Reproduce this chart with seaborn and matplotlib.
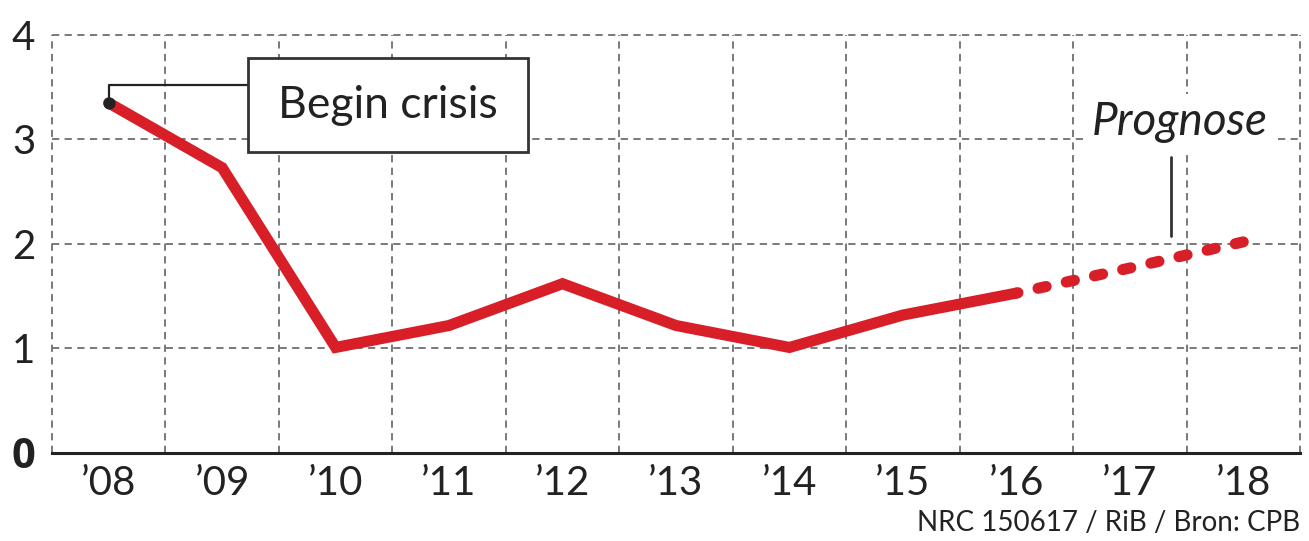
import numpy as np
import pandas as pd
import matplotlib.pyplot as plt
import seaborn as sns
from matplotlib.patches import Rectangle

# values
years = ["’08", "’09", "’10", "’11", "’12", "’13", "’14", "’15", "’16", "’17", "’18"]
growth = [3.35, 2.73, 1.01, 1.22, 1.62, 1.22, 1.01, 1.32, 1.53, 1.77, 2.02]
last_actual = 8  # '16 is the last realised year, rest is forecast
y_ticks = [0, 1, 2, 3, 4]

red = "#d81f28"
grid_col = "#6e6e6e"

sns.set_style("white")
plt.rcParams['font.family'] = ['Lato', 'DejaVu Sans']

df = pd.DataFrame({"pos": np.arange(len(years)), "growth": growth})
actual = df.iloc[:last_actual + 1]
forecast = df.iloc[last_actual:]

fig = plt.figure(figsize=(13.09, 5.41), dpi=100)
ax = fig.add_axes([0.0397, 0.1627, 0.9534, 0.7726])

sns.lineplot(data=actual, x="pos", y="growth", ax=ax, color=red, linewidth=8,
             solid_capstyle="round", solid_joinstyle="miter", zorder=4)
sns.lineplot(data=forecast, x="pos", y="growth", ax=ax, color=red, linewidth=8,
             linestyle=(0.6, (0.75, 1.85)), dash_capstyle="round", zorder=4)

ax.set_xlim(-0.5, len(years) - 0.5)
ax.set_ylim(0, 4)
ax.set_xticks(df["pos"])
ax.set_xticklabels(years)
ax.set_xticks(np.arange(len(years) + 1) - 0.5, minor=True)
ax.set_yticks(y_ticks)
ax.set_yticklabels([str(t) for t in y_ticks])
ax.set_xlabel("")
ax.set_ylabel("")

ax.tick_params(axis="x", which="both", length=0, pad=9, labelsize=29, labelcolor="#222222")
ax.tick_params(axis="y", length=0, pad=12, labelsize=29, labelcolor="#222222")

ax.grid(which="minor", axis="x", color=grid_col, linestyle=(0, (4, 3)), linewidth=1.3)
ax.grid(which="major", axis="y", color=grid_col, linestyle=(0, (4, 3)), linewidth=1.3)
ax.grid(which="major", axis="x", visible=False)
for t in ax.xaxis.get_minor_ticks() + ax.yaxis.get_major_ticks():
    t.gridline.set_clip_on(False)

for s in ["top", "right", "left"]:
    ax.spines[s].set_visible(False)
ax.spines["bottom"].set_color("#222222")
ax.spines["bottom"].set_linewidth(2.2)

# "Begin crisis" callout
ax.plot([0, 0, 1.23], [growth[0], 3.52, 3.52], color="#222222", lw=1.6, zorder=5)
ax.scatter([0], [growth[0]], s=60, color="#222222", zorder=6)
ax.add_patch(Rectangle((1.23, 2.88), 2.47, 0.90, facecolor="white",
                       edgecolor="#333333", linewidth=2, zorder=5))
ax.text(2.465, 3.33, "Begin crisis", ha="center", va="center", fontsize=32,
        color="#222222", zorder=6)

# forecast label
ax.text(9.44, 3.17, "Prognose", ha="center", va="center", fontsize=33,
        style="italic", color="#222222", zorder=6,
        bbox=dict(boxstyle="square,pad=0.15", fc="white", ec="none"))
ax.plot([9.36, 9.36], [2.83, 2.08], color="#333333", lw=2, zorder=5)

fig.text(0.993, 0.01, "NRC 150617 / RiB / Bron: CPB", ha="right", va="bottom",
         fontsize=20, color="#222222")

# bold zero on the value axis
fig.canvas.draw()
for lab in ax.get_yticklabels():
    if lab.get_text() == "0":
        lab.set_fontfamily(["Open Sans", "DejaVu Sans"])
        lab.set_fontweight("bold")
        lab.set_fontsize(30)

fig.savefig("out.png", dpi=100)
